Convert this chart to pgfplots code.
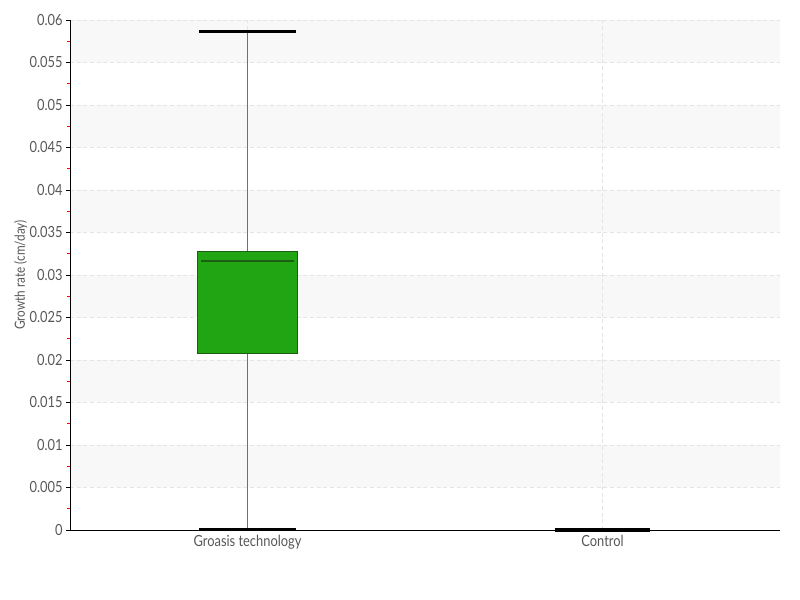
\documentclass[border=0pt]{standalone}
\usepackage{fontspec}
\setmainfont{Lato}[FakeStretch=0.84]
\usepackage{pgfplots}
\pgfplotsset{compat=1.18}
\definecolor{boxgreen}{HTML}{22A512}
\definecolor{boxedge}{HTML}{1B5E14}
\definecolor{txtgray}{HTML}{575757}
\definecolor{gridgray}{HTML}{E4E4E4}
\definecolor{bandgray}{HTML}{F8F8F8}
\definecolor{whiskgray}{HTML}{707070}
\pgfplotsset{band/.style={on layer=axis background, fill=bandgray, draw=none, forget plot}}

\begin{document}
\begin{tikzpicture}
\begin{axis}[
  at={(0,0)}, anchor=south west,
  set layers,
  scale only axis, width=532.5pt, height=382.5pt,
  xmin=-0.5, xmax=1.5, ymin=0, ymax=0.06,
  axis x line*=bottom, axis y line*=left,
  axis line style={black, line width=0.6pt, -},
  xtick={0,1}, xticklabels={Groasis technology, Control},
  xtick style={draw=none},
  ytick={0,0.005,0.01,0.015,0.02,0.025,0.03,0.035,0.04,0.045,0.05,0.055,0.06},
  yticklabels={0,0.005,0.01,0.015,0.02,0.025,0.03,0.035,0.04,0.045,0.05,0.055,0.06},
  scaled y ticks=false,
  minor y tick num=1,
  tick align=outside,
  major tick length=3pt, minor tick length=2.5pt,
  every major y tick/.append style={black, line width=0.6pt},
  every minor y tick/.append style={red, line width=0.5pt},
  every tick label/.append style={font=\fontsize{11.5}{13}\selectfont, color=txtgray},
  xticklabel style={yshift=3pt},
  yticklabel style={xshift=1pt},
  /pgf/number format/assume math mode=true,
  ymajorgrids, xmajorgrids,
  grid style={gridgray, dash pattern=on 3pt off 2pt, line width=0.5pt},
  ylabel={Growth rate (cm/day)},
  ylabel style={font=\fontsize{10.5}{12}\selectfont, color=txtgray, yshift=-5pt},
  clip=false,
]
% alternating background bands
\addplot[band] coordinates {(-0.5,0.005) (1.5,0.005) (1.5,0.010) (-0.5,0.010) (-0.5,0.005)};
\addplot[band] coordinates {(-0.5,0.015) (1.5,0.015) (1.5,0.020) (-0.5,0.020) (-0.5,0.015)};
\addplot[band] coordinates {(-0.5,0.025) (1.5,0.025) (1.5,0.030) (-0.5,0.030) (-0.5,0.025)};
\addplot[band] coordinates {(-0.5,0.035) (1.5,0.035) (1.5,0.040) (-0.5,0.040) (-0.5,0.035)};
\addplot[band] coordinates {(-0.5,0.045) (1.5,0.045) (1.5,0.050) (-0.5,0.050) (-0.5,0.045)};
\addplot[band] coordinates {(-0.5,0.055) (1.5,0.055) (1.5,0.060) (-0.5,0.060) (-0.5,0.055)};
% Groasis technology
\addplot[whiskgray, line width=0.8pt] coordinates {(0,0.0001) (0,0.0586)};
\addplot[fill=boxgreen, draw=boxedge, line width=0.6pt]
  coordinates {(-0.141,0.0208) (0.141,0.0208) (0.141,0.0328) (-0.141,0.0328) (-0.141,0.0208)};
\addplot[boxedge, line width=0.8pt] coordinates {(-0.13,0.03165) (0.13,0.03165)};
\addplot[black, line width=2.2pt] coordinates {(-0.136,0.0586) (0.136,0.0586)};
\addplot[black, line width=2.2pt] coordinates {(-0.136,0.0001) (0.136,0.0001)};
% Control
\addplot[black, line width=3pt] coordinates {(0.865,0) (1.135,0)};
\end{axis}
\path (-52.5pt,-52.5pt) rectangle (547.5pt,397.5pt);
\end{tikzpicture}
\end{document}
